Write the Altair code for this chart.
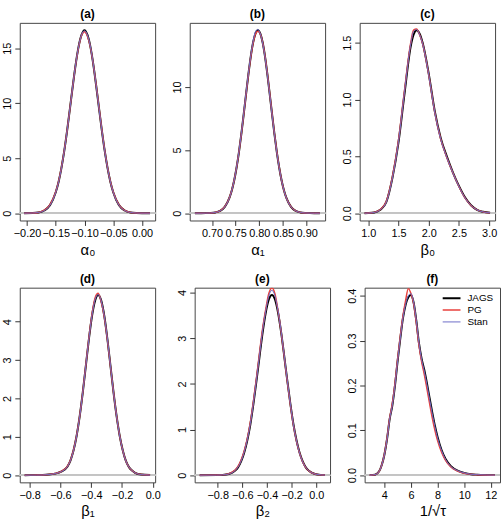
import altair as alt
import pandas as pd

FONT = "Liberation Sans"
SERIES = ["JAGS", "PG", "Stan"]
COLORS = ["#000000", "#e8413c", "#6c6cc8"]
WIDTHS = [2.0, 1.0, 1.0]

# (a) alpha_0
a_x = [-0.205, -0.19, -0.18, -0.17, -0.16, -0.15, -0.145, -0.14, -0.135, -0.13,
       -0.125, -0.12, -0.115, -0.11, -0.105, -0.10, -0.095, -0.09, -0.085, -0.08,
       -0.075, -0.07, -0.065, -0.06, -0.055, -0.05, -0.04, -0.03, -0.02, -0.01,
       0.0, 0.014]
a_jags = [0.002, 0.015, 0.064, 0.24, 0.73, 1.90, 2.86, 4.14, 5.73, 7.60,
          9.65, 11.73, 13.66, 15.22, 16.24, 16.65, 16.24, 15.22, 13.66, 11.73,
          9.65, 7.60, 5.73, 4.14, 2.86, 1.90, 0.73, 0.24, 0.064, 0.015,
          0.003, 0.0]
a_pg = [0.002, 0.017, 0.07, 0.27, 0.78, 1.95, 2.90, 4.18, 5.76, 7.62,
        9.66, 11.72, 13.64, 15.18, 16.20, 16.50, 16.12, 15.18, 13.66, 11.76,
        9.70, 7.64, 5.76, 4.16, 2.88, 1.92, 0.75, 0.25, 0.066, 0.016,
        0.003, 0.0]
a_stan = [0.002, 0.015, 0.064, 0.24, 0.73, 1.90, 2.86, 4.14, 5.73, 7.60,
          9.65, 11.73, 13.66, 15.22, 16.24, 16.60, 16.22, 15.22, 13.66, 11.73,
          9.65, 7.60, 5.73, 4.14, 2.86, 1.90, 0.73, 0.24, 0.064, 0.015,
          0.003, 0.0]

# (b) alpha_1
b_x = [0.664, 0.677, 0.687, 0.697, 0.707, 0.717, 0.727, 0.737, 0.742, 0.747,
       0.752, 0.757, 0.762, 0.767, 0.772, 0.777, 0.782, 0.787, 0.792, 0.797,
       0.802, 0.807, 0.812, 0.817, 0.822, 0.827, 0.832, 0.837, 0.842, 0.847,
       0.852, 0.857, 0.867, 0.877, 0.887, 0.897, 0.907, 0.917, 0.928]
b_jags = [0.0, 0.001, 0.004, 0.015, 0.056, 0.18, 0.50, 1.23, 1.82, 2.61,
          3.62, 4.84, 6.26, 7.82, 9.44, 11.02, 12.43, 13.54, 14.25, 14.50,
          14.25, 13.54, 12.43, 11.02, 9.44, 7.82, 6.26, 4.84, 3.62, 2.61,
          1.82, 1.23, 0.50, 0.18, 0.056, 0.015, 0.004, 0.001, 0.0]
b_pg = [0.0, 0.001, 0.004, 0.016, 0.06, 0.19, 0.52, 1.25, 1.84, 2.63,
        3.64, 4.86, 6.27, 7.82, 9.43, 11.00, 12.40, 13.50, 14.20, 14.42,
        14.22, 13.54, 12.45, 11.05, 9.47, 7.85, 6.28, 4.85, 3.62, 2.60,
        1.81, 1.22, 0.50, 0.18, 0.056, 0.015, 0.004, 0.001, 0.0]
b_stan = [0.0, 0.001, 0.004, 0.015, 0.056, 0.18, 0.50, 1.23, 1.83, 2.63,
          3.65, 4.88, 6.31, 7.88, 9.50, 11.08, 12.50, 13.63, 14.40, 14.56,
          14.22, 13.48, 12.38, 10.98, 9.40, 7.79, 6.24, 4.82, 3.61, 2.60,
          1.81, 1.22, 0.50, 0.18, 0.056, 0.015, 0.004, 0.001, 0.0]

# (c) beta_0
c_x = [0.94, 1.0, 1.1, 1.2, 1.3, 1.4, 1.5, 1.6, 1.7, 1.75,
       1.8, 1.85, 1.9, 2.0, 2.1, 2.2, 2.3, 2.4, 2.5, 2.6,
       2.7, 2.8, 2.9, 3.015]
c_jags = [0.0, 0.001, 0.006, 0.03, 0.10, 0.31, 0.62, 1.05, 1.46, 1.57,
          1.61, 1.58, 1.50, 1.23, 0.90, 0.66, 0.50, 0.36, 0.24, 0.14,
          0.07, 0.03, 0.012, 0.003]
c_pg = [0.0, 0.001, 0.007, 0.032, 0.105, 0.32, 0.64, 1.08, 1.49, 1.61,
        1.62, 1.57, 1.49, 1.22, 0.89, 0.65, 0.49, 0.355, 0.235, 0.135,
        0.068, 0.029, 0.011, 0.003]
c_stan = [0.0, 0.001, 0.006, 0.031, 0.10, 0.31, 0.63, 1.07, 1.48, 1.60,
          1.615, 1.57, 1.49, 1.22, 0.89, 0.65, 0.49, 0.355, 0.235, 0.135,
          0.068, 0.029, 0.011, 0.003]

# (d) beta_1
d_x = [-0.832, -0.755, -0.715, -0.675, -0.635, -0.595, -0.555, -0.535, -0.515, -0.495,
       -0.475, -0.455, -0.435, -0.415, -0.395, -0.375, -0.355, -0.335, -0.315, -0.295,
       -0.275, -0.255, -0.235, -0.215, -0.195, -0.175, -0.155, -0.135, -0.115, -0.075,
       -0.018]
d_jags = [0.0, 0.001, 0.004, 0.015, 0.04, 0.09, 0.22, 0.38, 0.64, 1.02,
          1.53, 2.15, 2.85, 3.55, 4.15, 4.55, 4.70, 4.55, 4.15, 3.55,
          2.85, 2.15, 1.53, 1.02, 0.64, 0.37, 0.21, 0.12, 0.06, 0.015,
          0.001]
d_pg = [0.0, 0.001, 0.004, 0.016, 0.042, 0.095, 0.23, 0.39, 0.65, 1.03,
        1.54, 2.16, 2.87, 3.58, 4.20, 4.62, 4.74, 4.52, 4.12, 3.53,
        2.84, 2.15, 1.53, 1.02, 0.64, 0.37, 0.21, 0.12, 0.06, 0.015,
        0.001]
d_stan = [0.0, 0.001, 0.004, 0.015, 0.04, 0.09, 0.22, 0.38, 0.64, 1.02,
          1.53, 2.15, 2.86, 3.56, 4.17, 4.58, 4.71, 4.54, 4.14, 3.55,
          2.85, 2.15, 1.53, 1.02, 0.64, 0.37, 0.21, 0.12, 0.06, 0.015,
          0.001]

# (e) beta_2
e_x = [-0.946, -0.81, -0.76, -0.71, -0.66, -0.635, -0.61, -0.585, -0.56, -0.535,
       -0.51, -0.485, -0.46, -0.435, -0.41, -0.385, -0.36, -0.335, -0.31, -0.285,
       -0.26, -0.235, -0.21, -0.185, -0.16, -0.135, -0.11, -0.085, -0.06, -0.01,
       0.04, 0.071]
e_jags = [0.0, 0.001, 0.005, 0.025, 0.096, 0.17, 0.30, 0.49, 0.76, 1.11,
          1.56, 2.07, 2.61, 3.13, 3.56, 3.85, 3.95, 3.85, 3.56, 3.13,
          2.61, 2.07, 1.56, 1.11, 0.76, 0.49, 0.30, 0.17, 0.096, 0.025,
          0.005, 0.001]
e_pg = [0.0, 0.001, 0.006, 0.03, 0.11, 0.19, 0.33, 0.53, 0.80, 1.16,
        1.62, 2.14, 2.69, 3.22, 3.64, 3.98, 4.10, 3.97, 3.60, 3.14,
        2.60, 2.05, 1.54, 1.09, 0.74, 0.48, 0.29, 0.165, 0.093, 0.024,
        0.005, 0.001]
e_stan = [0.0, 0.001, 0.005, 0.026, 0.10, 0.18, 0.31, 0.51, 0.78, 1.13,
          1.59, 2.10, 2.65, 3.18, 3.60, 3.93, 4.05, 3.93, 3.60, 3.15,
          2.62, 2.07, 1.56, 1.10, 0.75, 0.48, 0.29, 0.168, 0.095, 0.025,
          0.005, 0.001]

# (f) 1/sqrt(tau)
f_x = [2.9, 3.3, 3.6, 3.8, 4.0, 4.2, 4.4, 4.6, 4.8, 5.0,
       5.2, 5.4, 5.6, 5.8, 6.0, 6.2, 6.4, 6.6, 6.8, 7.0,
       7.2, 7.4, 7.6, 7.8, 8.0, 8.3, 8.6, 9.0, 9.5, 10.0,
       10.5, 11.0, 12.31]
f_jags = [0.0, 0.001, 0.008, 0.022, 0.045, 0.08, 0.125, 0.155, 0.20, 0.255,
          0.305, 0.35, 0.38, 0.397, 0.402, 0.385, 0.345, 0.295, 0.26, 0.235,
          0.205, 0.172, 0.14, 0.11, 0.085, 0.056, 0.036, 0.02, 0.01, 0.005,
          0.002, 0.001, 0.0]
f_pg = [0.0, 0.001, 0.008, 0.022, 0.046, 0.082, 0.127, 0.16, 0.205, 0.26,
        0.31, 0.355, 0.39, 0.416, 0.405, 0.383, 0.34, 0.29, 0.253, 0.225,
        0.193, 0.16, 0.128, 0.10, 0.077, 0.051, 0.033, 0.018, 0.009, 0.004,
        0.002, 0.001, 0.0]
f_stan = [0.0, 0.001, 0.008, 0.022, 0.045, 0.08, 0.125, 0.156, 0.201, 0.256,
          0.306, 0.351, 0.381, 0.40, 0.405, 0.386, 0.345, 0.295, 0.258, 0.232,
          0.202, 0.169, 0.137, 0.108, 0.083, 0.055, 0.035, 0.019, 0.01, 0.005,
          0.002, 0.001, 0.0]

panels = [
    dict(tag="(a)", label="α₀", x=a_x, ys=(a_jags, a_pg, a_stan),
         xdom=[-0.2126, 0.0229], ydom=[-0.666, 17.316],
         xticks=[-0.20, -0.15, -0.10, -0.05, 0.00], xfmt=".2f",
         yticks=[0, 5, 10, 15], yfmt="d"),
    dict(tag="(b)", label="α₁", x=b_x, ys=(b_jags, b_pg, b_stan),
         xdom=[0.653, 0.939], ydom=[-0.58, 15.08],
         xticks=[0.70, 0.75, 0.80, 0.85, 0.90], xfmt=".2f",
         yticks=[0, 5, 10], yfmt="d"),
    dict(tag="(c)", label="β₀", x=c_x, ys=(c_jags, c_pg, c_stan),
         xdom=[0.859, 3.098], ydom=[-0.0644, 1.6744],
         xticks=[1.0, 1.5, 2.0, 2.5, 3.0], xfmt=".1f",
         yticks=[0.0, 0.5, 1.0, 1.5], yfmt=".1f"),
    dict(tag="(d)", label="β₁", x=d_x, ys=(d_jags, d_pg, d_stan),
         xdom=[-0.864, 0.015], ydom=[-0.188, 4.888],
         xticks=[-0.8, -0.6, -0.4, -0.2, 0.0], xfmt=".1f",
         yticks=[0, 1, 2, 3, 4], yfmt="d"),
    dict(tag="(e)", label="β₂", x=e_x, ys=(e_jags, e_pg, e_stan),
         xdom=[-0.987, 0.112], ydom=[-0.158, 4.108],
         xticks=[-0.8, -0.6, -0.4, -0.2, 0.0], xfmt=".1f",
         yticks=[0, 1, 2, 3, 4], yfmt="d"),
    dict(tag="(f)", label="1/√τ", x=f_x, ys=(f_jags, f_pg, f_stan),
         xdom=[2.52, 12.69], ydom=[-0.0161, 0.4181],
         xticks=[4, 6, 8, 10, 12], xfmt="d",
         yticks=[0.0, 0.1, 0.2, 0.3, 0.4], yfmt=".1f"),
]


def panel(p, height, with_legend):
    rows = []
    for name, ys in zip(SERIES, p["ys"]):
        for xv, yv in zip(p["x"], ys):
            rows.append({"x": xv, "density": yv, "series": name})
    df = pd.DataFrame(rows)

    if with_legend:
        leg = alt.Legend(
            title=None, orient="top-right", offset=6, padding=0,
            symbolType="stroke", symbolSize=324, clipHeight=9.3,
            labelFontSize=10, labelFont=FONT, labelOffset=6, rowPadding=1,
            labelColor="black",
        )
    else:
        leg = None

    zero = alt.Chart(df).mark_rule(color="#c4c4c4", strokeWidth=1).encode(
        y=alt.datum(0)
    )
    lines = alt.Chart(df).mark_line(interpolate="monotone", clip=True).encode(
        x=alt.X("x:Q",
                scale=alt.Scale(domain=p["xdom"], nice=False, zero=False),
                axis=alt.Axis(values=p["xticks"], format=p["xfmt"],
                              title=p["label"], grid=False)),
        y=alt.Y("density:Q",
                scale=alt.Scale(domain=p["ydom"], nice=False, zero=False),
                axis=alt.Axis(values=p["yticks"], format=p["yfmt"], title=None,
                              grid=False, labelAngle=270, labelAlign="center",
                              labelBaseline="bottom")),
        color=alt.Color("series:N",
                        scale=alt.Scale(domain=SERIES, range=COLORS),
                        legend=leg),
        strokeWidth=alt.StrokeWidth("series:N",
                                    scale=alt.Scale(domain=SERIES, range=WIDTHS),
                                    legend=leg),
    )
    return alt.layer(zero, lines).properties(
        width=137, height=height,
        title=alt.TitleParams(p["tag"], fontSize=12, fontWeight="bold",
                              font=FONT, offset=2, color="black"),
    )


top = alt.hconcat(*[panel(p, 200, False) for p in panels[:3]], spacing=15)
bottom = alt.hconcat(
    *[panel(p, 197, i == 2) for i, p in enumerate(panels[3:])], spacing=15
).resolve_scale(color="independent", strokeWidth="independent")

chart = alt.vconcat(top, bottom, spacing=14).resolve_scale(
    color="independent", strokeWidth="independent"
).properties(
    padding={"left": 1, "top": 4, "right": 0, "bottom": 0},
    background="white",
).configure_view(
    stroke="#444444", strokeWidth=1
).configure_axis(
    labelFont=FONT, titleFont=FONT, labelFontSize=11, titleFontSize=15,
    titleFontWeight="normal", labelColor="black", titleColor="black",
    tickColor="#333333", tickSize=5, labelPadding=2, titlePadding=4,
    domain=False, grid=False,
)

chart.save("out.html", embed_options={"renderer": "svg", "actions": False})
